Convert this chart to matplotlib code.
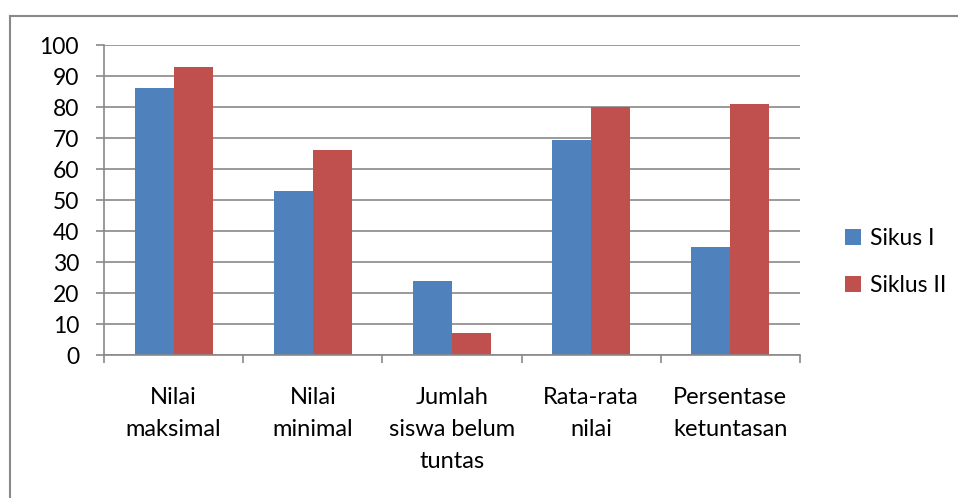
import matplotlib.pyplot as plt
import numpy as np
from matplotlib.lines import Line2D

plt.rcParams["font.family"] = ["Lato", "DejaVu Sans"]

# ==========================================================
# Data
# ==========================================================

CATEGORIES = [
    "Nilai\nmaksimal",
    "Nilai\nminimal",
    "Jumlah\nsiswa belum\ntuntas",
    "Rata-rata\nnilai",
    "Persentase\nketuntasan",
]

SIKLUS_1 = [86, 53, 24, 69.5, 35]
SIKLUS_2 = [93, 66, 7, 80, 81]

SERIES_LABELS = ["Sikus I", "Siklus II"]
COLORS = ["#4F81BD", "#C0504D"]

Y_TICKS = list(range(0, 101, 10))

GRID_COLOR = "#898989"


def main():
    fig = plt.figure(figsize=(9.58, 4.98), dpi=100)
    ax = fig.add_axes([0.1086, 0.2871, 0.7264, 0.6225])

    x = np.arange(len(CATEGORIES))
    width = 0.28

    for i, vals in enumerate([SIKLUS_1, SIKLUS_2]):
        ax.bar(
            x + (i - 0.5) * width,
            vals,
            width,
            color=COLORS[i],
            label=SERIES_LABELS[i],
            zorder=2,
        )

    # axes
    ax.set_xlim(-0.5, len(CATEGORIES) - 0.5)
    ax.set_ylim(0, 100)
    ax.set_yticks(Y_TICKS)
    ax.yaxis.grid(True, color=GRID_COLOR, linewidth=1.2, zorder=0)
    ax.set_axisbelow(True)

    ax.set_xticks(x)
    ax.set_xticklabels(CATEGORIES, linespacing=1.65)
    ax.set_xticks(np.arange(-0.5, len(CATEGORIES)), minor=True)
    ax.tick_params(axis="x", which="major", length=0, pad=23, labelsize=17)
    ax.tick_params(axis="x", which="minor", length=6, width=1.2,
                   color=GRID_COLOR, direction="out")
    ax.tick_params(axis="y", length=6, width=1.2, color=GRID_COLOR,
                   pad=12, labelsize=16.5)

    for side in ["top", "right"]:
        ax.spines[side].set_visible(False)
    for side in ["left", "bottom"]:
        ax.spines[side].set_color(GRID_COLOR)
        ax.spines[side].set_linewidth(1.2)

    ax.legend(
        loc="center left",
        bbox_to_anchor=(1.035, 0.30),
        frameon=False,
        fontsize=16.5,
        handlelength=0.7,
        handleheight=0.7,
        handletextpad=0.4,
        labelspacing=1.1,
    )

    # chart outer border (left and top edges visible)
    fig.add_artist(Line2D([10 / 958, 10 / 958], [0, 1 - 16 / 498],
                          transform=fig.transFigure, color=GRID_COLOR,
                          linewidth=1.5))
    fig.add_artist(Line2D([10 / 958, 1], [1 - 16 / 498, 1 - 16 / 498],
                          transform=fig.transFigure, color=GRID_COLOR,
                          linewidth=1.5))

    fig.savefig("out.png", dpi=100)


if __name__ == "__main__":
    main()
